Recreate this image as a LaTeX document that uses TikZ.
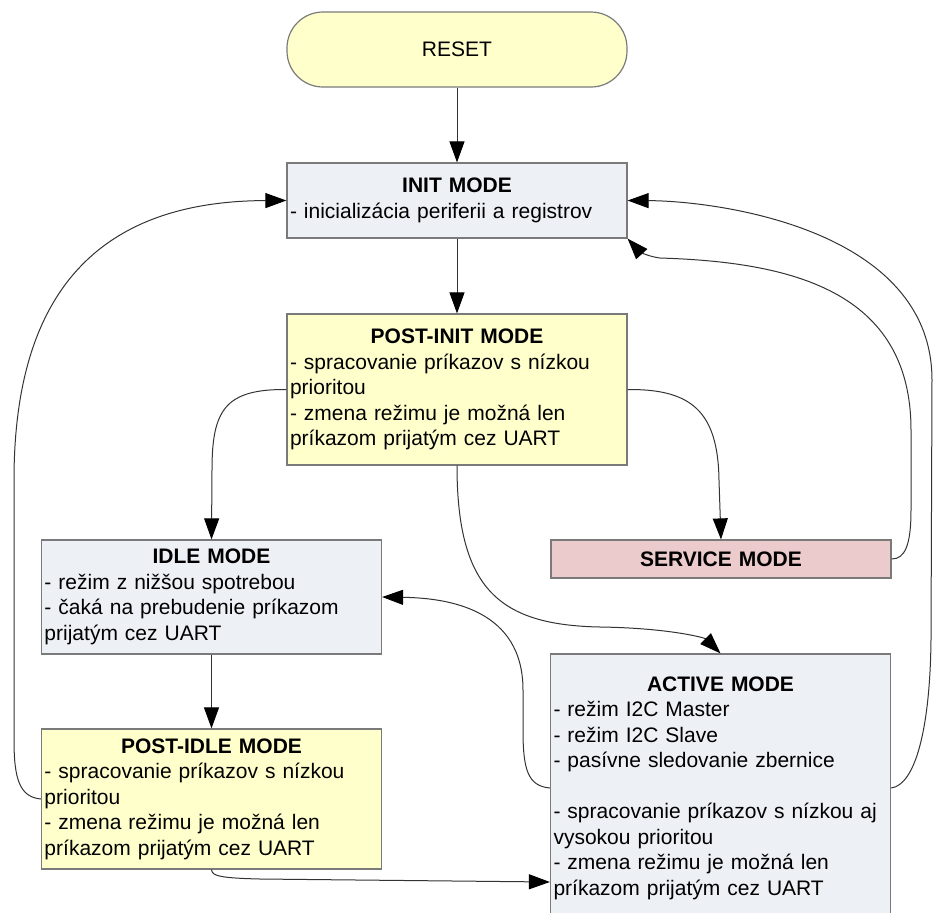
\documentclass[tikz,border=0pt]{standalone}
\usepackage{fontspec}
\setmainfont{Liberation Sans}
\usetikzlibrary{arrows.meta}
\definecolor{yellowfill}{HTML}{FFFFCC}
\definecolor{greyfill}{HTML}{EDF0F5}
\definecolor{pinkfill}{HTML}{EBCBCB}
\definecolor{boxline}{HTML}{7A7A7A}
\newcommand\modetitle[1]{\makebox[\linewidth]{\bfseries #1}}
\tikzset{
  modebox/.style={draw=boxline, line width=0.6pt, inner xsep=1.5pt, inner ysep=0pt,
    text width=167pt, align=left, font=\fontsize{10.5}{12.75}\selectfont},
  conn/.style={draw=black!80, line width=0.5pt, -{Triangle[length=10.5pt,width=7.5pt,color=black]}},
}

\begin{document}
\begin{tikzpicture}[x=0.5pt,y=-0.5pt]
			%%%%% START %%%%%
			\useasboundingbox (0,0) rectangle (933,912);

			\node[modebox, align=center, fill=yellowfill, rounded corners=18pt, minimum height=37.5pt] (reset) at (457,49.5) {RESET};
			\node[modebox, fill=greyfill, minimum height=37.5pt] (init) at (457,200.5)
				{\modetitle{INIT MODE}\\- inicializácia periferii a registrov};
			\node[modebox, fill=yellowfill, minimum height=75.5pt] (postinit) at (457,389.5)
				{\modetitle{POST-INIT MODE}\\- spracovanie príkazov s nízkou\\prioritou\\- zmena režimu je možná len\\príkazom prijatým cez UART};
			\node[modebox, fill=greyfill, minimum height=57pt] (idle) at (211.5,597)
				{\modetitle{IDLE MODE}\\- režim z nižšou spotrebou\\- čaká na prebudenie príkazom\\prijatým cez UART};
			\node[modebox, align=center, fill=pinkfill, minimum height=19pt, font=\fontsize{10.5}{12.75}\selectfont\bfseries] (service) at (721,559) {SERVICE MODE};
			\node[modebox, fill=yellowfill, minimum height=70pt] (postidle) at (211.5,799)
				{\modetitle{POST-IDLE MODE}\\- spracovanie príkazov s nízkou\\prioritou\\- zmena režimu je možná len\\príkazom prijatým cez UART};
			\node[modebox, fill=greyfill, minimum height=134pt] (active) at (720.5,788)
				{\modetitle{ACTIVE MODE}\\- režim I2C Master\\- režim I2C Slave\\- pasívne sledovanie zbernice\\[12.75pt]- spracovanie príkazov s nízkou aj\\vysokou prioritou\\- zmena režimu je možná len\\príkazom prijatým cez UART};

			% straight ones
			\draw[conn] (reset) -- (init);
			\draw[conn] (init) -- (postinit);
			\draw[conn] (idle) -- (postidle);

			% from post-init
			\draw[conn] (postinit.west) .. controls (225,389) and (212,410) .. (212,470) -- (idle.north);
			\draw[conn] (postinit.east) .. controls (690,389) and (718,410) .. (719,480) -- (service.north);
			\draw[conn] (postinit.south) .. controls (457,590) and (500,625) .. (600,627)
				.. controls (670,628) and (705,638) .. (active.north);

			% back to init
			\draw[conn] (postidle.west) .. controls (20,797) and (14,780) .. (14,740) -- (14,480)
				.. controls (14,280) and (110,201) .. (init.west);
			\draw[conn] (service.east) .. controls (905,559) and (911,545) .. (911,510) -- (911,430)
				.. controls (911,290) and (790,262) .. (660,258) .. controls (645,256) and (638,250) .. (init.south east);
			\draw[conn] (active.east) .. controls (915,785) and (930,730) .. (931,640) -- (932,380)
				.. controls (932,230) and (720,201) .. (init.east);

			% active and post-idle
			\draw[conn] (active.west) .. controls (528,786) and (523,770) .. (523,730) -- (523,690)
				.. controls (523,610) and (450,598) .. (idle.east);
			\draw[conn] (postidle.south) .. controls (212,876) and (220,878) .. (260,879) -- ([yshift=-47pt]active.west);
			%%%%% END %%%%%
\end{tikzpicture}
\end{document}
